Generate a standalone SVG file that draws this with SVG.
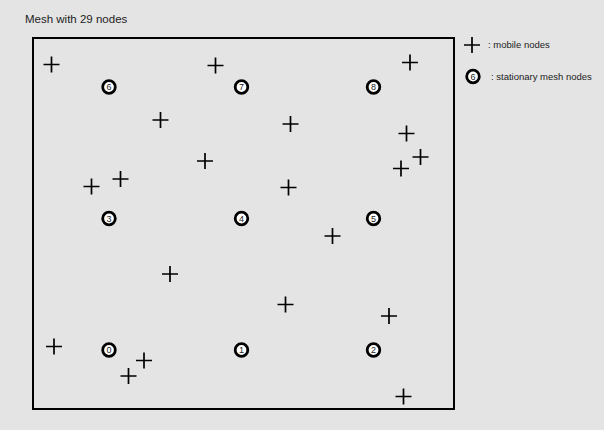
<svg xmlns="http://www.w3.org/2000/svg" width="604" height="430" viewBox="0 0 604 430">
<defs>
<style>
.t{font-family:"Liberation Sans",Arial,sans-serif;fill:#222}
.x{stroke:#000;stroke-width:1.7;fill:none}
.c{stroke:#000;stroke-width:2.8;fill:#fff}
.n{font-family:"Liberation Sans",Arial,sans-serif;font-size:9px;fill:#222;text-anchor:middle}
</style>
<path id="cr" class="x" d="M-8,0H8M0,-8V8"/>
</defs>
<rect width="604" height="430" fill="#e4e4e4"/>
<text class="t" x="25" y="22.5" font-size="11.5">Mesh with 29 nodes</text>
<rect x="33" y="38" width="421" height="371" fill="none" stroke="#000" stroke-width="2"/>
<g id="legend">
<use href="#cr" x="472" y="45"/>
<text class="t" x="488" y="48" font-size="9.5">: mobile nodes</text>
<circle class="c" cx="473" cy="76.5" r="6.3"/>
<text class="n" x="473" y="79.7">6</text>
<text class="t" x="491" y="79.5" font-size="9.5">: stationary mesh nodes</text>
</g>
<g id="stationary">
<g id="s0"><circle class="c" cx="109" cy="350" r="6.3"/><text class="n" x="109" y="353.2">0</text></g>
<g id="s1"><circle class="c" cx="241.5" cy="350" r="6.3"/><text class="n" x="241.5" y="353.2">1</text></g>
<g id="s2"><circle class="c" cx="373.5" cy="350" r="6.3"/><text class="n" x="373.5" y="353.2">2</text></g>
<g id="s3"><circle class="c" cx="109" cy="218.5" r="6.3"/><text class="n" x="109" y="221.7">3</text></g>
<g id="s4"><circle class="c" cx="241.5" cy="218.5" r="6.3"/><text class="n" x="241.5" y="221.7">4</text></g>
<g id="s5"><circle class="c" cx="373.5" cy="218.5" r="6.3"/><text class="n" x="373.5" y="221.7">5</text></g>
<g id="s6"><circle class="c" cx="109" cy="87" r="6.3"/><text class="n" x="109" y="90.2">6</text></g>
<g id="s7"><circle class="c" cx="241.5" cy="87" r="6.3"/><text class="n" x="241.5" y="90.2">7</text></g>
<g id="s8"><circle class="c" cx="373.5" cy="87" r="6.3"/><text class="n" x="373.5" y="90.2">8</text></g>
</g>
<g id="mobile">
<use href="#cr" x="51.5" y="64.5"/>
<use href="#cr" x="215.5" y="65.5"/>
<use href="#cr" x="410" y="62.5"/>
<use href="#cr" x="160.5" y="120"/>
<use href="#cr" x="290.5" y="124"/>
<use href="#cr" x="406.5" y="133.5"/>
<use href="#cr" x="205" y="161"/>
<use href="#cr" x="420.5" y="157"/>
<use href="#cr" x="401" y="168.5"/>
<use href="#cr" x="91.5" y="186.5"/>
<use href="#cr" x="120.5" y="179"/>
<use href="#cr" x="288.5" y="187.5"/>
<use href="#cr" x="332.5" y="236"/>
<use href="#cr" x="170" y="274"/>
<use href="#cr" x="285.5" y="304.5"/>
<use href="#cr" x="389" y="316"/>
<use href="#cr" x="54" y="346.5"/>
<use href="#cr" x="144" y="360.5"/>
<use href="#cr" x="128.5" y="376"/>
<use href="#cr" x="403.5" y="396.5"/>
</g>
</svg>
